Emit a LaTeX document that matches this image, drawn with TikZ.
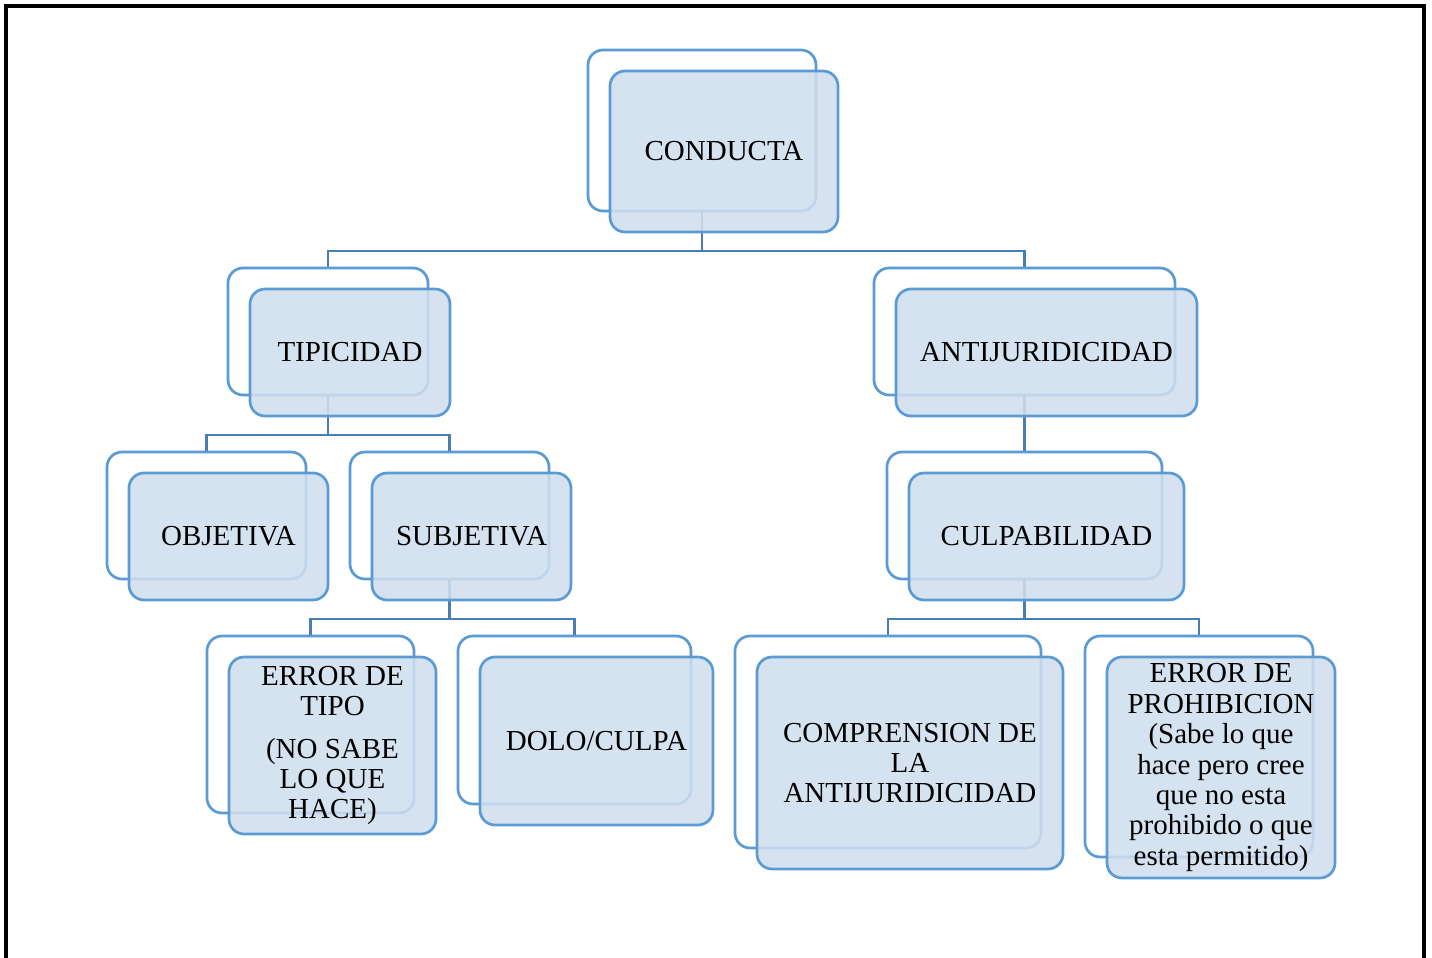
\documentclass[tikz,border=0pt]{standalone}
\usepackage{fontspec}
\setmainfont{Liberation Serif}
\definecolor{boxline}{RGB}{91,155,213}
\definecolor{boxfill}{RGB}{208,222,237}
\definecolor{linkblue}{RGB}{74,124,184}
\begin{document}
\begin{tikzpicture}[x=0.5pt,y=-0.5pt,
  back/.style = {draw=boxline, line width=1.35pt, rounded corners=7.5pt, fill=white, inner sep=0pt},
  main/.style = {back, fill=boxfill, fill opacity=0.88, text opacity=1, align=center, font=\fontsize{14.5}{15.2}\selectfont, xshift=11pt, yshift=-10.5pt},
  link/.style = {draw=linkblue, line width=1.1pt}]
        \useasboundingbox (0,0) rectangle (1432,958);
        \draw[line width=2pt] (6,958) -- (6,6) -- (1424,6) -- (1424,958);
        \node[back, minimum width=114pt, minimum height=80.5pt] (b1) at (702,130.5) {};
        \node[back, minimum width=100pt, minimum height=63.5pt] (b2) at (328,331.5) {};
        \node[back, minimum width=150.5pt, minimum height=63.5pt] (b3) at (1024.5,331.5) {};
        \node[back, minimum width=99.5pt, minimum height=63.5pt] (b4) at (206.5,515.5) {};
        \node[back, minimum width=99.5pt, minimum height=63.5pt] (b5) at (449.5,515.5) {};
        \node[back, minimum width=137.5pt, minimum height=63.5pt] (b6) at (1024.5,515.5) {};
        \node[back, minimum width=103.5pt, minimum height=88.5pt] (b7) at (310.5,724.5) {};
        \node[back, minimum width=116.5pt, minimum height=84pt] (b8) at (574.5,720) {};
        \node[back, minimum width=153pt, minimum height=106pt] (b9) at (888,742) {};
        \node[back, minimum width=114pt, minimum height=110.5pt] (b10) at (1199,746.5) {};
        \draw[link] (b1.south) -- ++(0,39) -| (b2.north);
        \draw[link] (b1.south) -- ++(0,39) -| (b3.north);
        \draw[link] (b2.south) -- ++(0,39) -| (b4.north);
        \draw[link] (b2.south) -- ++(0,39) -| (b5.north);
        \draw[link] (b3.south) -- (b6.north);
        \draw[link] (b5.south) -- ++(0,39) -| (b7.north);
        \draw[link] (b5.south) -- ++(0,39) -| (b8.north);
        \draw[link] (b6.south) -- ++(0,39) -| (b9.north);
        \draw[link] (b6.south) -- ++(0,39) -| (b10.north);
        \node[main, minimum width=114pt, minimum height=80.5pt] (1) at (b1) {CONDUCTA};
        \node[main, minimum width=100pt, minimum height=63.5pt] (2) at (b2) {TIPICIDAD};
        \node[main, minimum width=150.5pt, minimum height=63.5pt] (3) at (b3) {ANTIJURIDICIDAD};
        \node[main, minimum width=99.5pt, minimum height=63.5pt] (4) at (b4) {OBJETIVA};
        \node[main, minimum width=99.5pt, minimum height=63.5pt] (5) at (b5) {SUBJETIVA};
        \node[main, minimum width=137.5pt, minimum height=63.5pt] (6) at (b6) {CULPABILIDAD};
        \node[main, minimum width=103.5pt, minimum height=88.5pt] (7) at (b7) {ERROR DE\\TIPO\\[6pt](NO SABE\\LO QUE\\HACE)};
        \node[main, minimum width=116.5pt, minimum height=84pt] (8) at (b8) {DOLO/CULPA};
        \node[main, minimum width=153pt, minimum height=106pt] (9) at (b9) {COMPRENSION DE\\LA\\ANTIJURIDICIDAD};
        \node[main, minimum width=114pt, minimum height=110.5pt] (10) at (b10) {ERROR DE\\PROHIBICION\\(Sabe lo que\\hace pero cree\\que no esta\\prohibido o que\\esta permitido)};
\end{tikzpicture}
\end{document}
